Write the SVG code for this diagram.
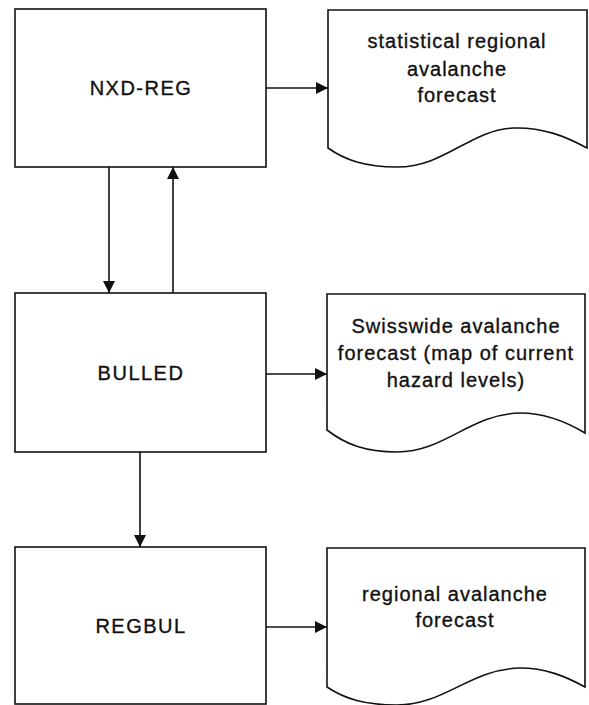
<svg xmlns="http://www.w3.org/2000/svg" width="589" height="705" viewBox="0 0 589 705">
<style>
.box{fill:#fff;stroke:#111;stroke-width:1.6}
.doc{fill:#fff;stroke:#111;stroke-width:1.6;stroke-linejoin:miter}
.lbl{font-family:"Liberation Sans",Arial,sans-serif;font-size:20px;letter-spacing:1.5px;fill:#111;stroke:#111;stroke-width:0.35;text-anchor:middle}
.dt{font-family:"Liberation Sans",Arial,sans-serif;font-size:20px;letter-spacing:1px;fill:#111;stroke:#111;stroke-width:0.35;text-anchor:middle}
.con{fill:none;stroke:#111;stroke-width:1.6}
</style>
<defs>
<marker id="ah" viewBox="0 0 12 12" refX="12" refY="6" markerWidth="12" markerHeight="12" markerUnits="userSpaceOnUse" orient="auto">
<path d="M0,0 L12,6 L0,12 Z" fill="#111"/>
</marker>
</defs>
<rect width="589" height="705" fill="#fff"/>
<g id="connectors">
<line class="con" x1="266" y1="88" x2="328" y2="88" marker-end="url(#ah)"/>
<line class="con" x1="109" y1="167" x2="109" y2="293" marker-end="url(#ah)"/>
<line class="con" x1="173" y1="293" x2="173" y2="167" marker-end="url(#ah)"/>
<line class="con" x1="266" y1="374" x2="327" y2="374" marker-end="url(#ah)"/>
<line class="con" x1="140" y1="452" x2="140" y2="547" marker-end="url(#ah)"/>
<line class="con" x1="266" y1="627" x2="327" y2="627" marker-end="url(#ah)"/>
</g>
<g id="nxd-reg">
<rect class="box" x="15" y="9" width="251" height="158"/>
<text class="lbl" x="141" y="95">NXD-REG</text>
</g>
<g id="bulled">
<rect class="box" x="15" y="293" width="251" height="159"/>
<text class="lbl" x="141" y="380">BULLED</text>
</g>
<g id="regbul">
<rect class="box" x="15" y="547" width="251" height="157"/>
<text class="lbl" x="141" y="633">REGBUL</text>
</g>
<g id="doc1">
<path class="doc" d="M328,10 L587,10 L587,148 C565,136 542,127 513,128 C470,130 445,167 397,167 C365,167 345,160 328,148 Z"/>
<text class="dt" x="457" y="48">statistical regional</text>
<text class="dt" x="457" y="76">avalanche</text>
<text class="dt" x="457" y="102">forecast</text>
</g>
<g id="doc2">
<path class="doc" d="M327,294 L585,294 L585,433 C565,421 545,413 520,413 C470,414 445,452 397,452 C365,452 345,444 327,430 Z"/>
<text class="dt" x="456" y="333">Swisswide avalanche</text>
<text class="dt" x="456" y="360">forecast (map of current</text>
<text class="dt" x="456" y="387">hazard levels)</text>
</g>
<g id="doc3">
<path class="doc" d="M327,548 L585,548 L585,687 C565,676 545,668 520,668 C470,669 445,705 397,705 C365,705 345,699 327,687 Z"/>
<text class="dt" x="455" y="601">regional avalanche</text>
<text class="dt" x="455" y="627">forecast</text>
</g>
</svg>
